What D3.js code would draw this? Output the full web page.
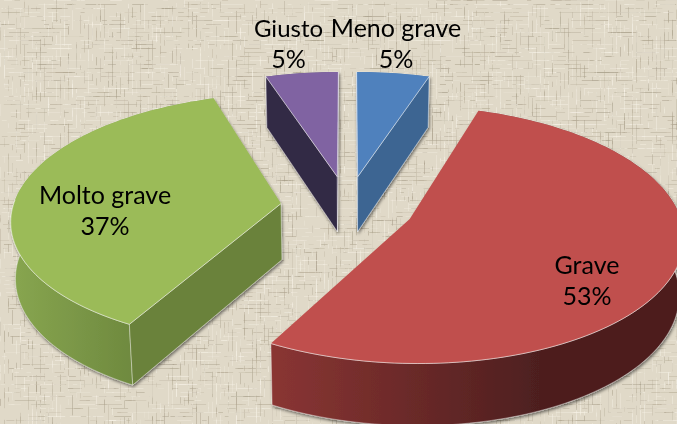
<!DOCTYPE html>
<html><head><meta charset="utf-8">
<script src="https://cdnjs.cloudflare.com/ajax/libs/d3/7.8.5/d3.min.js"></script>
<style>
html,body{margin:0;padding:0;background:#ddd5c2;overflow:hidden}
#wrap{position:relative;width:677px;height:424px}
canvas,svg{position:absolute;left:0;top:0}
text{font-family:Lato,"Open Sans",sans-serif;font-size:25px;fill:#000;text-anchor:middle}
</style></head><body><div id="wrap"><canvas id="bg" width="677" height="424"></canvas><svg id="chart" width="677" height="424"></svg></div>
<script>
// data
const categories = ["Meno grave","Grave","Molto grave","Giusto"];
const percents = [5,53,37,5];
// colours
const topColors = ["#4f81bd","#c0504d","#9bbb59","#8064a2"];
const faceColors = ["#3c6592","#7a2f2d","#6b823a","#332944"];
const wallStops = [["#3c6592","#3c6592"],["#8a3533","#4d1f1f"],["#88a650","#6f8a3f"],["#332944","#332944"]];
// label placement
const labelTargets = [[396,37],[587,274],[105,204],[288.5,37]];
const labelFontSizes = [25,25,25,24];
const lineGap = 31;

// background linen texture: short blurred woven streaks
(function(){
  const W=677,H=424,ctx=document.getElementById("bg").getContext("2d");
  const rnd=d3.randomLcg(0.37);
  ctx.fillStyle="#e0d9c8";ctx.fillRect(0,0,W,H);
  ctx.filter="blur(0.55px)";
  const tones=["rgba(246,241,229,","rgba(178,168,146,","rgba(250,246,236,","rgba(160,150,128,"];
  for(let k=0;k<9500;k++){
    const horiz=rnd()<0.55,len=4+rnd()*rnd()*30;
    const x=rnd()*W,y=rnd()*H;
    ctx.fillStyle=tones[Math.floor(rnd()*4)]+(0.16+rnd()*0.3)+")";
    if(horiz)ctx.fillRect(x,Math.round(y/4)*4,len,1);
    else ctx.fillRect(Math.round(x/4)*4,y,1,len);
  }
  ctx.filter="none";
})();

// 3D projection of the pie plane
const cx=347.5,cy=206.5,A=268,B=124,C=57,p=0.12,q=0.014,explode=0.25;
function project(X,Y,z){
  const w=1+p*Y+q*z;
  return [cx+A*X/w, cy-B*Y/w+C*z/w];
}
const svg=d3.select("#chart"),defs=svg.append("defs");
const f=defs.append("filter").attr("id","sh").attr("x","-10%").attr("y","-10%").attr("width","120%").attr("height","120%");
f.append("feDropShadow").attr("dx",1).attr("dy",2).attr("stdDeviation",1.8).attr("flood-color","#000").attr("flood-opacity",0.5);

const arcs=d3.pie().sort(null).value(d=>d)(percents);
const line=d3.line().curve(d3.curveLinearClosed),open=d3.line();
const area=pts=>d3.polygonArea(pts);
const drawOrder=[3,0,2,1];

drawOrder.forEach(i=>{
  const a=arcs[i],mid=(a.startAngle+a.endAngle)/2;
  const ox=explode*Math.sin(mid),oy=explode*Math.cos(mid);
  const n=Math.max(8,Math.round((a.endAngle-a.startAngle)*40));
  const angles=d3.range(n+1).map(k=>a.startAngle+(a.endAngle-a.startAngle)*k/n);
  const pt=(t,z)=>project(ox+Math.sin(t),oy+Math.cos(t),z);
  const topArc=angles.map(t=>pt(t,0)),botArc=angles.map(t=>pt(t,1));
  const apex0=project(ox,oy,0),apex1=project(ox,oy,1);
  const g=svg.append("g").attr("filter","url(#sh)");
  const ext=d3.extent(botArc.concat(topArc),d=>d[0]);
  const id="w"+i,grad=defs.append("linearGradient").attr("id",id).attr("gradientUnits","userSpaceOnUse")
    .attr("x1",ext[0]).attr("x2",i==1?ext[0]+270:(i==2?ext[0]+120:ext[1])).attr("y1",0).attr("y2",0);
  wallStops[i].forEach((c,k,arr)=>grad.append("stop").attr("offset",k/(arr.length-1)).attr("stop-color",c));
  const edge="rgba(255,255,255,0.55)";
  g.append("path").attr("d",line(topArc.concat(botArc.slice().reverse()))).attr("fill","url(#"+id+")").attr("stroke",edge).attr("stroke-width",0.7);
  [[a.startAngle,1],[a.endAngle,-1]].forEach(([t,sgn])=>{
    const face=[apex0,pt(t,0),pt(t,1),apex1];
    if(sgn*area(face)>1){
      g.append("path").attr("d",line(face)).attr("fill",faceColors[i]).attr("stroke",edge).attr("stroke-width",0.7);
    }
  });
  g.append("path").attr("d",line([apex0].concat(topArc))).attr("fill",topColors[i]);
  const front=angles.filter(t=>Math.cos(t)<0.05).map(t=>pt(t,0));
  if(front.length>1) g.append("path").attr("d",open(front)).attr("fill","none").attr("stroke",edge).attr("stroke-width",0.9);
  [[a.startAngle,1],[a.endAngle,-1]].forEach(([t,sgn])=>{
    if(sgn*area([apex0,pt(t,0),pt(t,1),apex1])>1)
      g.append("path").attr("d",open([apex0,pt(t,0)])).attr("fill","none").attr("stroke",edge).attr("stroke-width",0.9);
  });
});
categories.forEach((c,i)=>{
  const [x,y]=labelTargets[i];
  svg.append("text").attr("x",x).attr("y",y).style("font-size",labelFontSizes[i]+"px").text(c);
  svg.append("text").attr("x",x).attr("y",y+lineGap).text(percents[i]+"%");
});
</script></body></html>
